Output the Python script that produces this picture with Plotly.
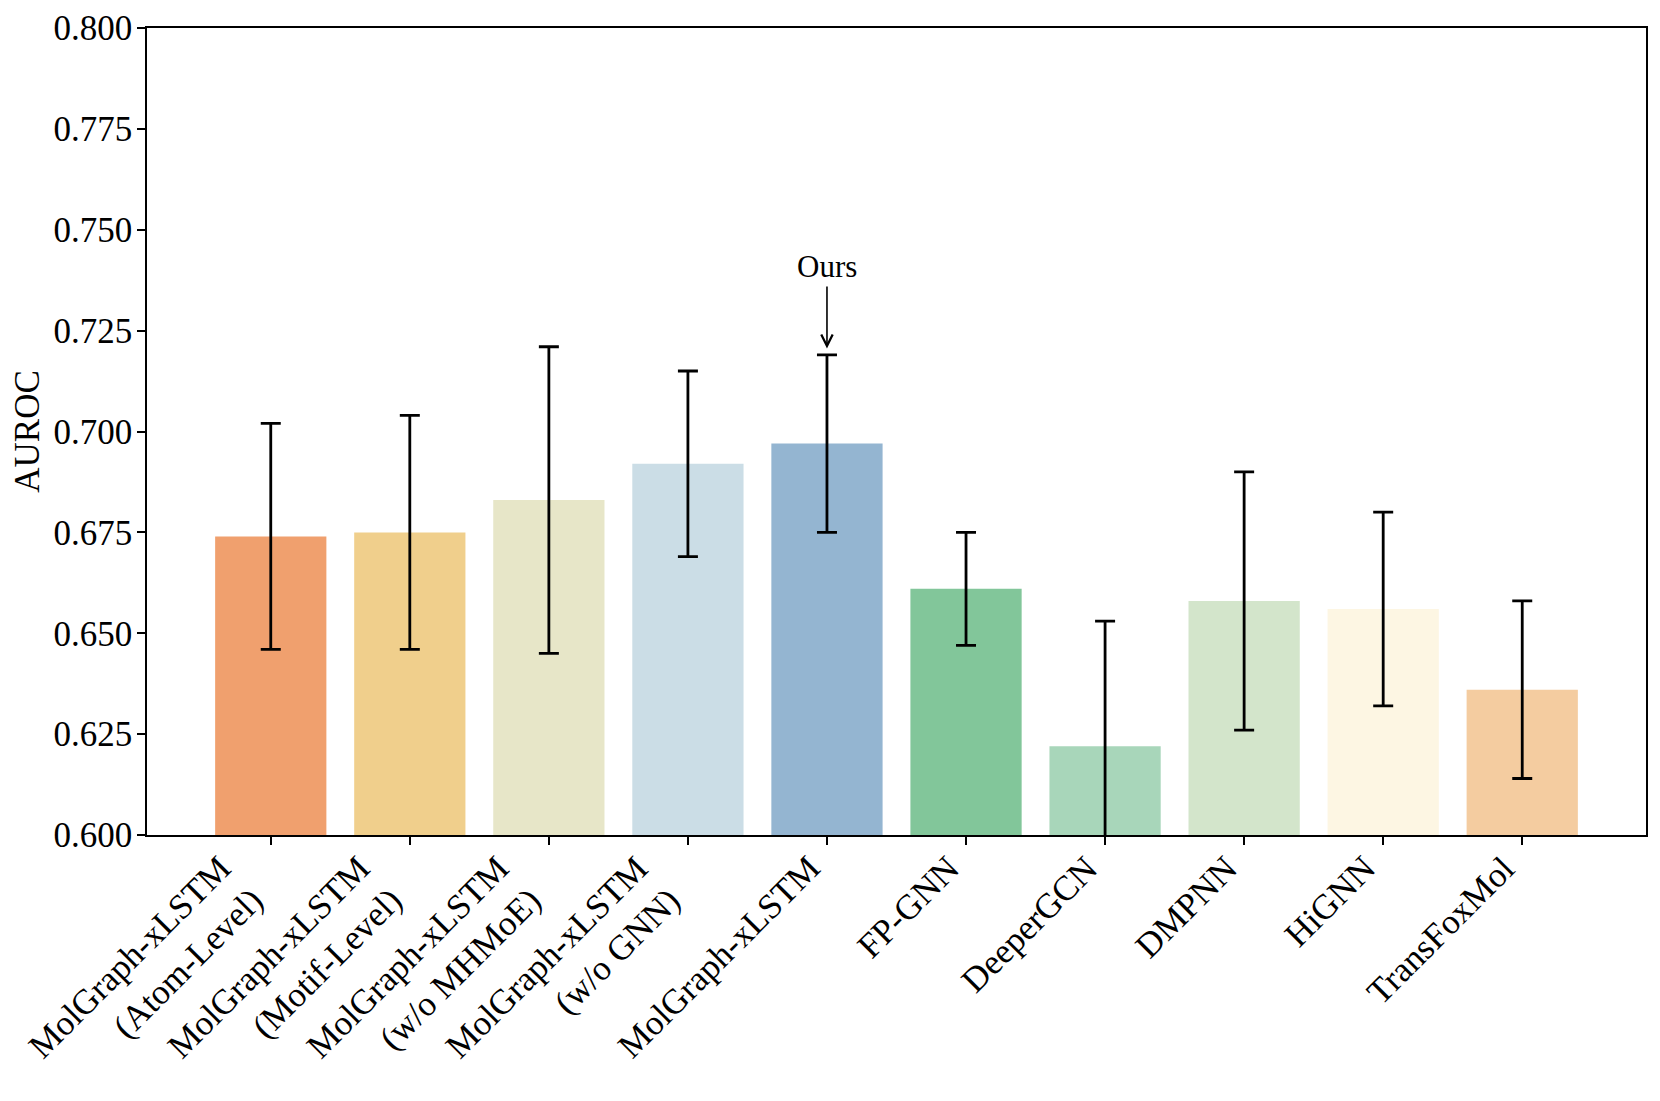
import plotly.graph_objects as go

categories = [
    "MolGraph-xLSTM<br>(Atom-Level)",
    "MolGraph-xLSTM<br>(Motif-Level)",
    "MolGraph-xLSTM<br>(w/o MHMoE)",
    "MolGraph-xLSTM<br>(w/o GNN)",
    "MolGraph-xLSTM",
    "FP-GNN",
    "DeeperGCN",
    "DMPNN",
    "HiGNN",
    "TransFoxMol",
]
auroc = [0.674, 0.675, 0.683, 0.692, 0.697, 0.661, 0.622, 0.658, 0.656, 0.636]
auroc_err = [0.028, 0.029, 0.038, 0.023, 0.022, 0.014, 0.031, 0.032, 0.024, 0.022]
colors = ["#F0A06E", "#F0CF8C", "#E7E6C8", "#CBDDE6", "#94B5D1",
          "#82C69A", "#A8D6BA", "#D3E5CB", "#FDF6E3", "#F4CCA0"]
y_ticks = [0.600, 0.625, 0.650, 0.675, 0.700, 0.725, 0.750, 0.775, 0.800]

x_pos = list(range(len(categories)))
FONT = "Liberation Serif, Times New Roman, serif"
FS = 35

fig = go.Figure()
fig.add_trace(go.Bar(
    x=x_pos, y=auroc, width=0.8,
    marker=dict(color=colors, line=dict(width=0)),
    error_y=dict(type="data", array=auroc_err, visible=True,
                 color="black", thickness=2.8, width=10),
    showlegend=False,
))

# rotated category labels, right edge aligned on each tick (like ha='right')
for xi, lab in zip(x_pos, categories):
    fig.add_annotation(
        x=xi, y=0, xref="x", yref="paper", text=lab, showarrow=False,
        textangle=-45, xanchor="right", yanchor="top", align="right",
        yshift=-11, xshift=3, font=dict(family=FONT, size=FS, color="black"),
    )

best = auroc.index(max(auroc))
fig.add_annotation(
    x=best, y=auroc[best] + auroc_err[best] + 0.0016, xref="x", yref="y",
    text="Ours", showarrow=True, arrowhead=5, arrowsize=1.4, arrowwidth=1.6,
    arrowcolor="black", ax=0, ay=-62, yanchor="bottom",
    font=dict(family=FONT, size=31, color="black"),
)

fig.update_layout(
    width=1660, height=1101,
    margin=dict(l=139, r=22, t=20, b=274, autoexpand=False),
    plot_bgcolor="white", paper_bgcolor="white",
    font=dict(family=FONT, size=FS, color="black"),
    xaxis=dict(
        range=[-0.89, 9.89], tickmode="array", tickvals=x_pos, showticklabels=False,
        showline=True, linecolor="black", linewidth=1.6, mirror=True,
        ticks="outside", ticklen=8, tickwidth=1.6, tickcolor="black",
        showgrid=False, zeroline=False, automargin=False,
    ),
    yaxis=dict(
        range=[0.6, 0.8], tickmode="array", tickvals=y_ticks,
        ticktext=[f"{v:.3f}" for v in y_ticks], ticklabeloverflow="allow",
        ticklabelstandoff=-2,
        showline=True, linecolor="black", linewidth=1.6, mirror=True,
        ticks="outside", ticklen=8, tickwidth=1.6, tickcolor="black",
        showgrid=False, zeroline=False, automargin=False,
        title=dict(text="AUROC", font=dict(family=FONT, size=FS), standoff=12),
        tickfont=dict(family=FONT, size=FS),
    ),
)

fig.write_html("out.html")
